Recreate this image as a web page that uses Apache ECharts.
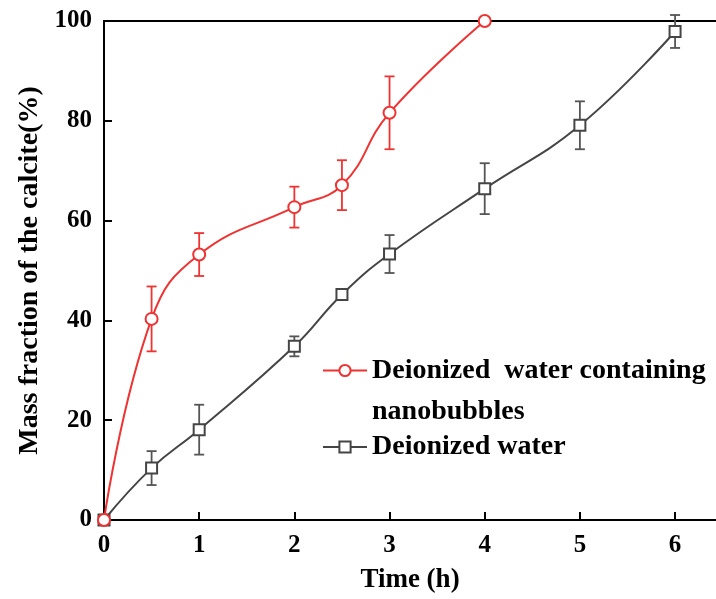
<!DOCTYPE html>
<html>
<head>
<meta charset="utf-8">
<script src="https://cdn.jsdelivr.net/npm/echarts@6/dist/echarts.min.js"></script>
<style>html,body{margin:0;padding:0;background:#fff}#c{width:716px;height:599px}</style>
</head>
<body>
<div id="c"></div>
<script>
const redName = 'Deionized  water containing\nnanobubbles';
const blackName = 'Deionized water';
const redX = [0, 0.5, 1, 2, 2.5, 3, 4];
const redY = [0, 40.3, 53.2, 62.7, 67.1, 81.6, 100];
const redErr = [0, 6.5, 4.3, 4.1, 5.0, 7.3, 0];
const blackX = [0, 0.5, 1, 2, 2.5, 3, 4, 5, 6];
const blackY = [0, 10.4, 18.1, 34.8, 45.2, 53.3, 66.4, 79.1, 97.9];
const blackErr = [0, 3.4, 5.0, 2.0, 1.0, 3.8, 5.1, 4.8, 3.3];
const xTicks = [0, 1, 2, 3, 4, 5, 6];
const yTicks = [0, 20, 40, 60, 80, 100];

const RED = '#ef3232';
const BLACK = '#454545';
const FONT = "'Liberation Serif', 'Times New Roman', serif";

function errData(xs, ys, es) {
  return xs.map((x, i) => [x, ys[i] - es[i], ys[i] + es[i]]).filter((d, i) => es[i] > 0);
}
function errRender(color) {
  return function (params, api) {
    const x = api.value(0);
    const lo = api.coord([x, api.value(1)]);
    const hi = api.coord([x, api.value(2)]);
    const w = 5;
    const style = { stroke: color, lineWidth: 1.8 };
    return {
      type: 'group',
      children: [
        { type: 'line', shape: { x1: lo[0], y1: lo[1], x2: hi[0], y2: hi[1] }, style },
        { type: 'line', shape: { x1: lo[0] - w, y1: lo[1], x2: lo[0] + w, y2: lo[1] }, style },
        { type: 'line', shape: { x1: hi[0] - w, y1: hi[1], x2: hi[0] + w, y2: hi[1] }, style }
      ]
    };
  };
}

const chart = echarts.init(document.getElementById('c'));
chart.setOption({
  animation: false,
  backgroundColor: '#fff',
  grid: { left: 104, right: 0, top: 21, bottom: 79 },
  legend: [
    {
      data: [redName], orient: 'vertical', left: 322, top: 309, padding: 0,
      itemWidth: 44, itemHeight: 14,
      formatter: n => '\n' + n,
      textStyle: { fontFamily: FONT, fontWeight: 'bold', fontSize: 28, color: '#000', lineHeight: 41 }
    },
    {
      data: [blackName], orient: 'vertical', left: 322, top: 430, padding: 0,
      itemWidth: 44, itemHeight: 14,
      textStyle: { fontFamily: FONT, fontWeight: 'bold', fontSize: 28, color: '#000', lineHeight: 34 }
    }
  ],
  xAxis: [
    {
      type: 'value', min: 0, max: 6.43, interval: 1,
      name: 'Time (h)', nameLocation: 'middle', nameGap: 47,
      nameTextStyle: { fontFamily: FONT, fontWeight: 'bold', fontSize: 27, color: '#000' },
      axisLine: { lineStyle: { color: '#000', width: 2 } },
      axisTick: { inside: true, length: 8, lineStyle: { color: '#000', width: 2 }, customValues: xTicks },
      axisLabel: { fontFamily: FONT, fontWeight: 'bold', fontSize: 25, color: '#000', margin: 13, customValues: xTicks },
      splitLine: { show: false }
    },
    {
      type: 'value', min: 0, max: 6.43, position: 'top',
      axisLine: { show: true, lineStyle: { color: '#000', width: 2 } },
      axisTick: { show: false }, axisLabel: { show: false }, splitLine: { show: false }
    }
  ],
  yAxis: {
    type: 'value', min: 0, max: 100, interval: 20,
    name: 'Mass fraction of the calcite(%)', nameLocation: 'middle', nameGap: 60,
    nameTextStyle: { fontFamily: FONT, fontWeight: 'bold', fontSize: 28, color: '#000' },
    axisLine: { show: true, lineStyle: { color: '#000', width: 2 } },
    axisTick: { show: true, inside: true, length: 8, lineStyle: { color: '#000', width: 2 } },
    axisLabel: { fontFamily: FONT, fontWeight: 'bold', fontSize: 25, color: '#000', margin: 12 },
    splitLine: { show: false }
  },
  series: [
    {
      type: 'custom', name: 'errRed', renderItem: errRender(RED), data: errData(redX, redY, redErr), z: 1, silent: true, clip: false
    },
    {
      type: 'custom', name: 'errBlack', renderItem: errRender('#555'), data: errData(blackX, blackY, blackErr), z: 1, silent: true, clip: false
    },
    {
      type: 'line', name: blackName, data: blackX.map((x, i) => [x, blackY[i]]), smooth: 0.45, clip: false,
      symbol: 'rect', symbolSize: 11, z: 3,
      lineStyle: { color: BLACK, width: 2 },
      itemStyle: { color: '#fff', borderColor: BLACK, borderWidth: 2 }
    },
    {
      type: 'line', name: redName, data: redX.map((x, i) => [x, redY[i]]), smooth: 0.45, clip: false,
      symbol: 'circle', symbolSize: 12, z: 4,
      lineStyle: { color: RED, width: 2 },
      itemStyle: { color: '#fff', borderColor: RED, borderWidth: 2 }
    }
  ]
});
</script>
</body>
</html>
